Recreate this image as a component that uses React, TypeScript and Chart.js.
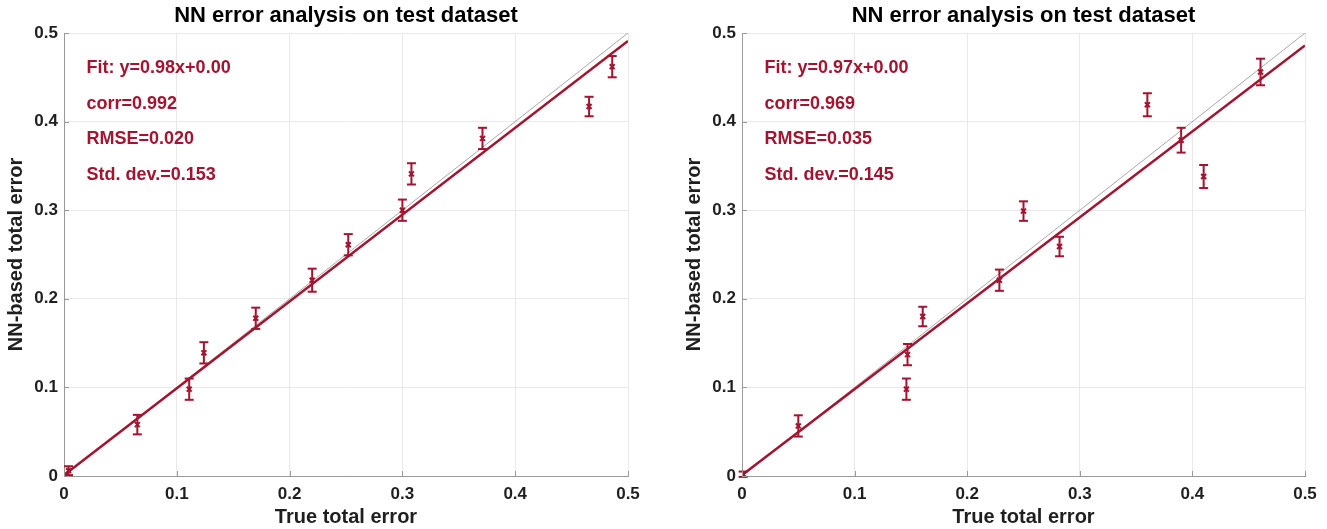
import React, { useEffect, useRef } from "react";
import { Chart, registerables } from "chart.js";

Chart.register(...registerables);

const FONT = "'Liberation Sans', Arial, Helvetica, sans-serif";
const RED = "#A2142F";
const AXIS = "#9a9a9a";
const GRID = "#e9e9e9";
const TEXT = "#1f1f1f";

const TITLE = "NN error analysis on test dataset";
const X_LABEL = "True total error";
const Y_LABEL = "NN-based total error";
const TICK_VALUES = [0, 0.1, 0.2, 0.3, 0.4, 0.5];
const TICK_LABELS = ["0", "0.1", "0.2", "0.3", "0.4", "0.5"];

// Left panel
const leftTrue = [0.004, 0.065, 0.111, 0.124, 0.17, 0.22, 0.252, 0.3, 0.308, 0.371, 0.4655, 0.486];
const leftPred = [0.006, 0.058, 0.098, 0.139, 0.178, 0.221, 0.261, 0.3, 0.341, 0.381, 0.417, 0.462];
const leftErr = [0.005, 0.011, 0.012, 0.012, 0.012, 0.013, 0.012, 0.012, 0.012, 0.012, 0.011, 0.012];
const leftFit = [0.98, 0.001]; // slope, intercept
const leftStats = ["Fit: y=0.98x+0.00", "corr=0.992", "RMSE=0.020", "Std. dev.=0.153"];

// Right panel
const rightTrue = [0.001, 0.05, 0.146, 0.147, 0.1605, 0.2286, 0.25, 0.282, 0.36, 0.39, 0.41, 0.4605];
const rightPred = [0.002, 0.0565, 0.098, 0.137, 0.18, 0.221, 0.299, 0.259, 0.419, 0.379, 0.338, 0.456];
const rightErr = [0.003, 0.012, 0.012, 0.012, 0.011, 0.012, 0.011, 0.011, 0.013, 0.014, 0.013, 0.015];
const rightFit = [0.97, 0.001];
const rightStats = ["Fit: y=0.97x+0.00", "corr=0.969", "RMSE=0.035", "Std. dev.=0.145"];

const FIT_X = [0, 0.5];
const IDENTITY = [0, 0.5];
const STAT_X = 0.02;
const STAT_Y = [0.46, 0.42, 0.38, 0.34];

type PanelProps = {
  trueVals: number[];
  predVals: number[];
  errVals: number[];
  fit: number[];
  stats: string[];
  width: number;
  axisWidth: number;
  rightPad: number;
  yTitlePad: number;
};

const statsPlugin = (stats: string[]) => ({
  id: "statsText",
  afterDatasetsDraw(chart: any) {
    const { ctx } = chart;
    const xs = chart.scales.x;
    const ys = chart.scales.y;
    ctx.save();
    ctx.fillStyle = RED;
    ctx.font = `bold 18px ${FONT}`;
    ctx.textAlign = "left";
    ctx.textBaseline = "middle";
    stats.forEach((s, i) => {
      ctx.fillText(s, xs.getPixelForValue(STAT_X), ys.getPixelForValue(STAT_Y[i]));
    });
    ctx.restore();
  },
});

const inwardTicks = {
  id: "inwardTicks",
  afterDraw(chart: any) {
    const { ctx, chartArea } = chart;
    const xs = chart.scales.x;
    const ys = chart.scales.y;
    ctx.save();
    ctx.strokeStyle = AXIS;
    ctx.lineWidth = 1;
    ctx.beginPath();
    TICK_VALUES.forEach((v) => {
      const px = Math.round(xs.getPixelForValue(v)) + 0.5;
      ctx.moveTo(px, chartArea.bottom);
      ctx.lineTo(px, chartArea.bottom - 5);
      const py = Math.round(ys.getPixelForValue(v)) + 0.5;
      ctx.moveTo(chartArea.left, py);
      ctx.lineTo(chartArea.left + 5, py);
    });
    ctx.stroke();
    ctx.restore();
  },
};

function Panel(p: PanelProps) {
  const ref = useRef<HTMLCanvasElement | null>(null);
  useEffect(() => {
    if (!ref.current) return;
    const markers = p.trueVals.map((x, i) => ({ x, y: p.predVals[i] }));
    const bars: { x: number; y: number }[] = [];
    p.trueVals.forEach((x, i) => {
      bars.push({ x, y: p.predVals[i] - p.errVals[i] });
      bars.push({ x, y: p.predVals[i] + p.errVals[i] });
      bars.push({ x, y: NaN });
    });
    const fitLine = FIT_X.map((x) => ({ x, y: p.fit[0] * x + p.fit[1] }));
    const idLine = IDENTITY.map((v) => ({ x: v, y: v }));

    const tickFont = { family: FONT, size: 17, weight: "bold" as const };
    const labelFont = { family: FONT, size: 20, weight: "bold" as const };

    const chart = new Chart(ref.current, {
      type: "scatter",
      data: {
        datasets: [
          {
            label: "points",
            data: markers,
            pointStyle: "crossRot",
            pointRadius: 3.5,
            borderColor: RED,
            backgroundColor: RED,
            borderWidth: 2,
            showLine: false,
            order: 0,
          },
          {
            label: "error bars",
            data: bars,
            showLine: true,
            spanGaps: false,
            borderColor: RED,
            borderWidth: 2,
            pointStyle: "line",
            pointRadius: 4.5,
            pointBorderWidth: 2,
            pointBorderColor: RED,
            pointBackgroundColor: RED,
            clip: false,
            order: 1,
          },
          {
            label: "fit",
            data: fitLine,
            showLine: true,
            borderColor: RED,
            borderWidth: 2.5,
            pointRadius: 0,
            order: 2,
          },
          {
            label: "y=x",
            data: idLine,
            showLine: true,
            borderColor: "#a8a8a8",
            borderWidth: 1,
            pointRadius: 0,
            order: 3,
          },
        ] as any,
      },
      options: {
        animation: false,
        responsive: false,
        events: [],
        layout: { padding: { left: 0, right: p.rightPad, top: 0, bottom: 0 } },
        plugins: {
          legend: { display: false },
          tooltip: { enabled: false },
          title: {
            display: true,
            fullSize: false,
            text: TITLE,
            color: "#000",
            font: { family: FONT, size: 22, weight: "bold" },
            padding: { top: 3, bottom: 3.6 },
          },
        },
        scales: {
          x: {
            type: "linear",
            min: 0,
            max: 0.5,
            afterBuildTicks: (s: any) => {
              s.ticks = TICK_VALUES.map((v) => ({ value: v }));
            },
            afterFit: (s: any) => {
              s.height = 53;
            },
            ticks: {
              color: TEXT,
              font: tickFont,
              padding: 8,
              maxRotation: 0,
              callback: (_v: any, i: number) => TICK_LABELS[i],
            },
            grid: { color: GRID, lineWidth: 1, drawTicks: false },
            border: { color: AXIS, width: 1 },
            title: {
              display: true,
              text: X_LABEL,
              color: TEXT,
              font: labelFont,
              padding: { top: 0, bottom: 0 },
            },
          },
          y: {
            type: "linear",
            min: 0,
            max: 0.5,
            afterBuildTicks: (s: any) => {
              s.ticks = TICK_VALUES.map((v) => ({ value: v }));
            },
            afterFit: (s: any) => {
              s.width = p.axisWidth;
            },
            ticks: {
              color: TEXT,
              font: tickFont,
              padding: 6,
              callback: (_v: any, i: number) => TICK_LABELS[i],
            },
            grid: { color: GRID, lineWidth: 1, drawTicks: false },
            border: { color: AXIS, width: 1 },
            title: {
              display: true,
              text: Y_LABEL,
              color: TEXT,
              font: labelFont,
              padding: { top: p.yTitlePad, bottom: 0 },
            },
          },
        },
      } as any,
      plugins: [statsPlugin(p.stats), inwardTicks],
    });
    return () => chart.destroy();
  }, []);
  return (
    <canvas
      ref={ref}
      width={p.width}
      height={529}
      style={{ display: "block", width: p.width, height: 529 }}
    />
  );
}

export default function App() {
  return (
    <div
      style={{
        position: "fixed",
        left: 0,
        top: 0,
        width: 1327,
        height: 529,
        background: "#fff",
        display: "flex",
      }}
    >
      <Panel
        trueVals={leftTrue}
        predVals={leftPred}
        errVals={leftErr}
        fit={leftFit}
        stats={leftStats}
        width={664}
        axisWidth={64}
        rightPad={36}
        yTitlePad={4}
      />
      <Panel
        trueVals={rightTrue}
        predVals={rightPred}
        errVals={rightErr}
        fit={rightFit}
        stats={rightStats}
        width={663}
        axisWidth={78}
        rightPad={22}
        yTitlePad={18}
      />
    </div>
  );
}
